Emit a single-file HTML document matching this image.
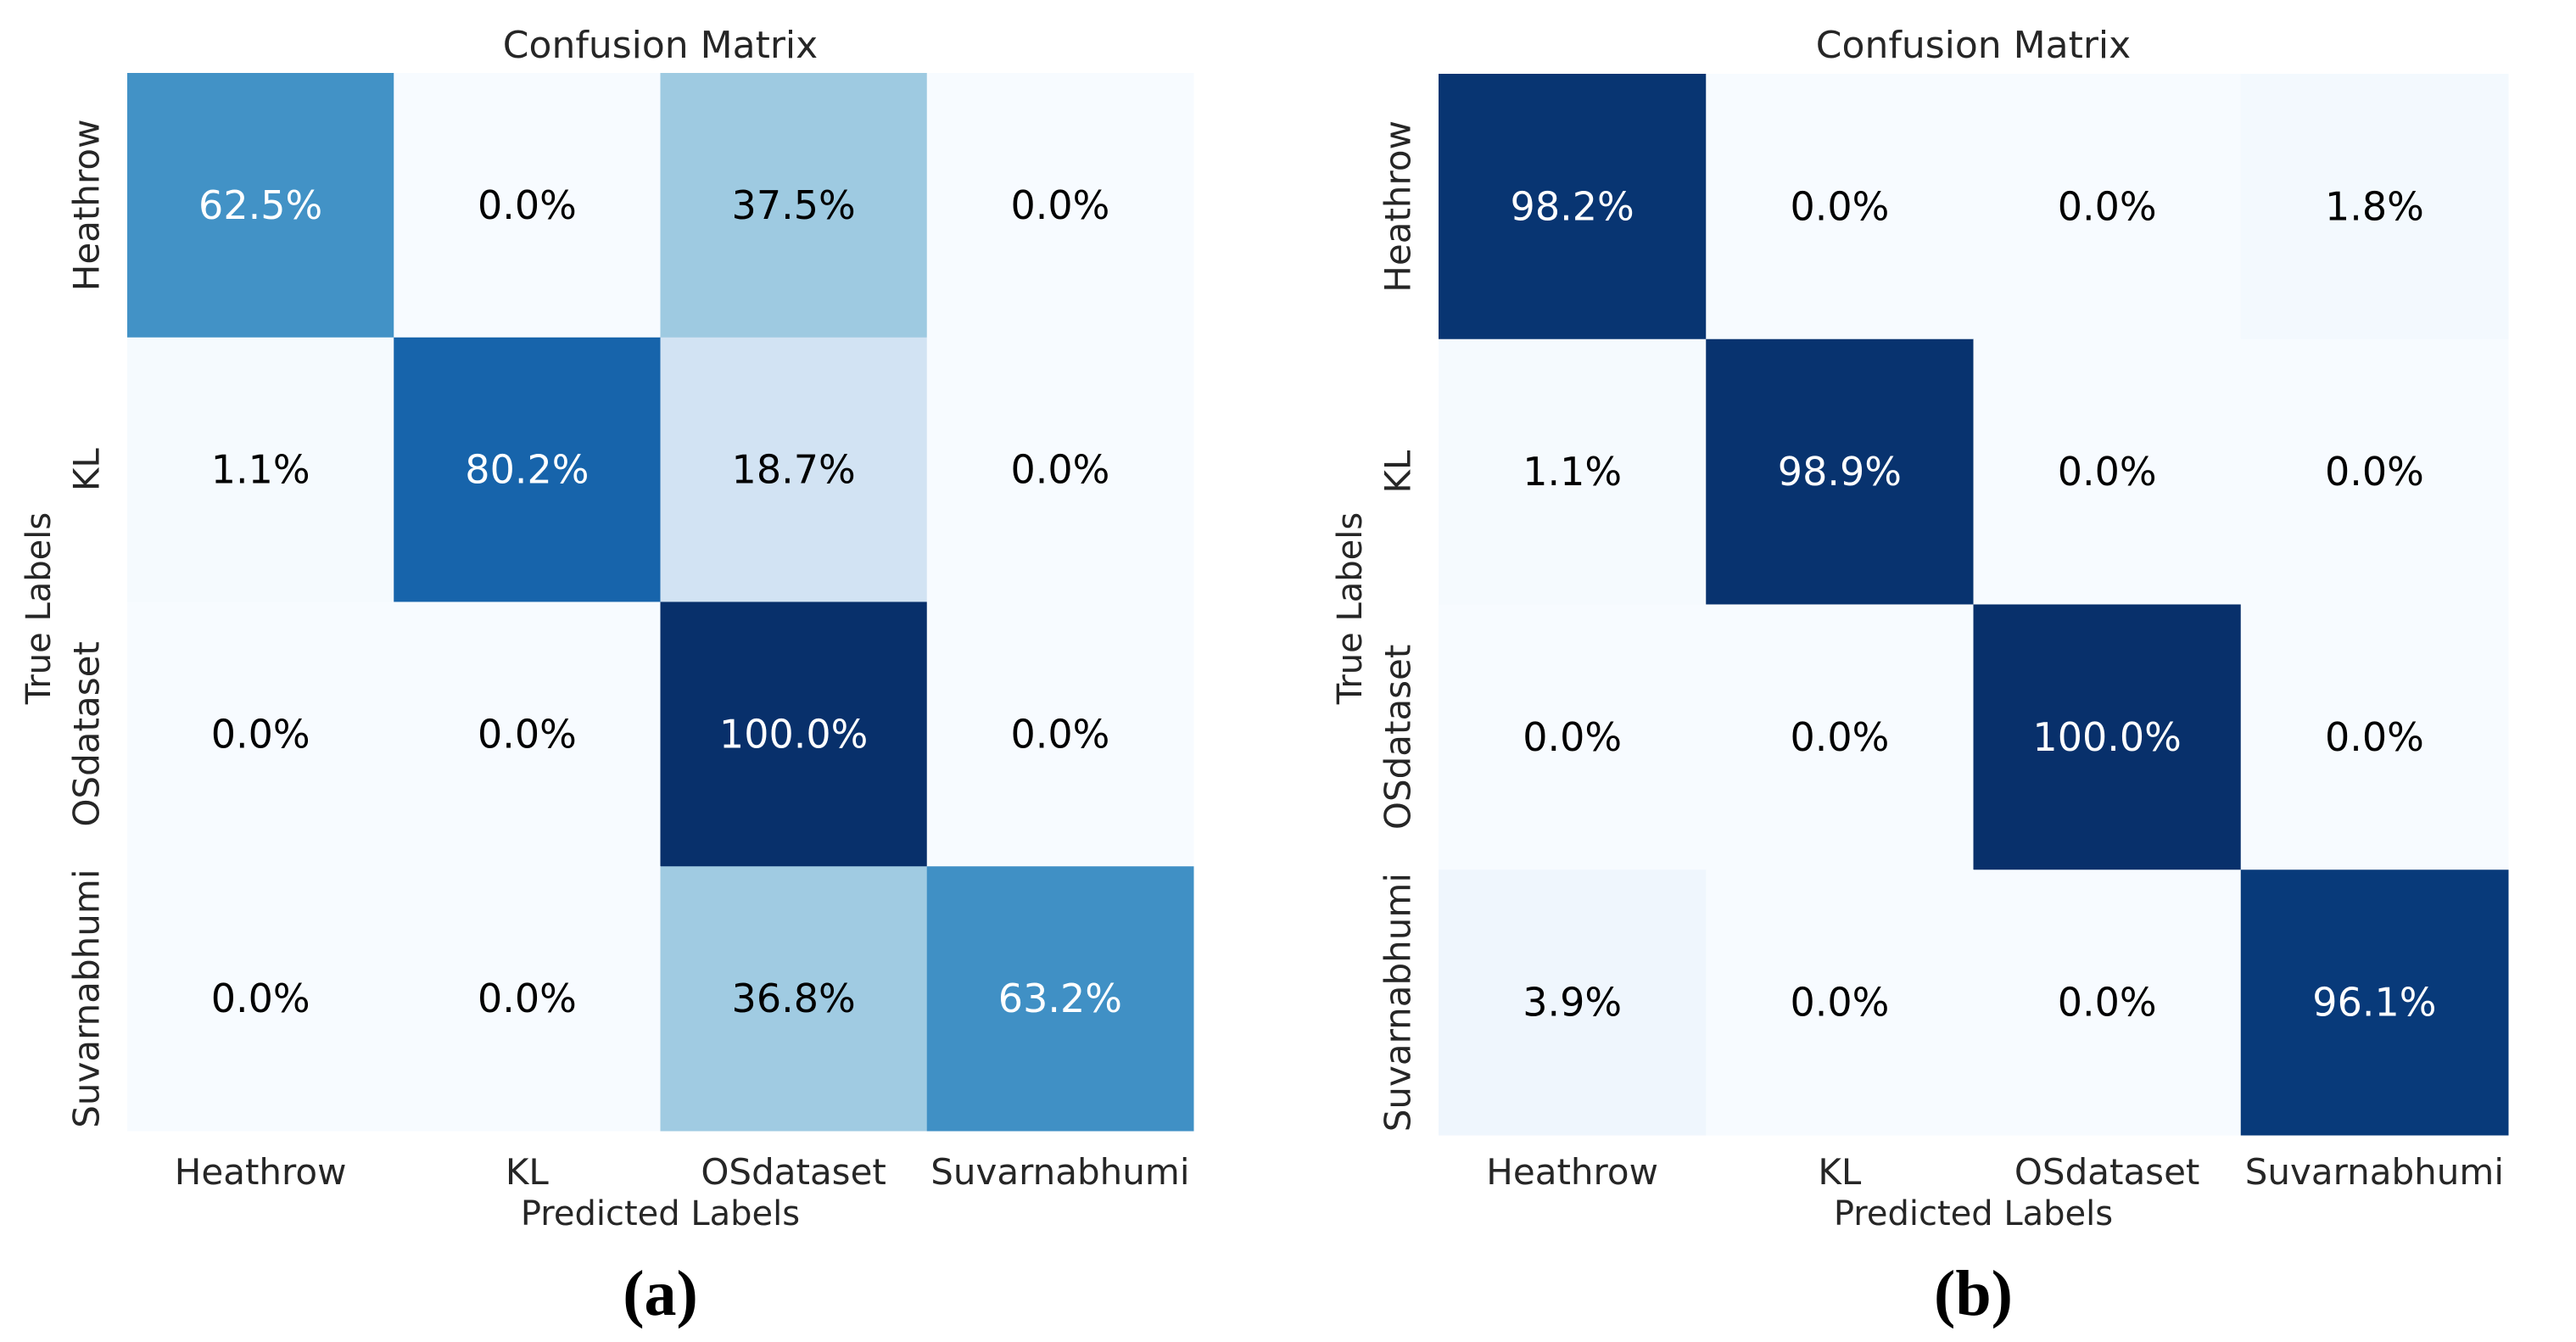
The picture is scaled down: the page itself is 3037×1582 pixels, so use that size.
<!DOCTYPE html>
<html><head><meta charset="utf-8"><style>
html,body{margin:0;padding:0;background:#fff;}
svg{display:block;}
text{font-family:"DejaVu Sans","Liberation Sans",sans-serif;}
text.serif{font-family:"Liberation Serif","DejaVu Serif",serif;}
</style></head>
<body>
<svg id="fig" width="3037" height="1582" viewBox="0 0 3037 1582" xmlns="http://www.w3.org/2000/svg"></svg>
<script>
const categories = ["Heathrow","KL","OSdataset","Suvarnabhumi"];
const valuesA = [
  [62.5, 0.0, 37.5, 0.0],
  [1.1, 80.2, 18.7, 0.0],
  [0.0, 0.0, 100.0, 0.0],
  [0.0, 0.0, 36.8, 63.2]
];
const valuesB = [
  [98.2, 0.0, 0.0, 1.8],
  [1.1, 98.9, 0.0, 0.0],
  [0.0, 0.0, 100.0, 0.0],
  [3.9, 0.0, 0.0, 96.1]
];
const panelLabels = ["(a)","(b)"];

const NS = "http://www.w3.org/2000/svg";
const svg = document.getElementById("fig");
const stops = ["#f7fbff","#deebf7","#c6dbef","#9ecae1","#6baed6","#4292c6","#2171b5","#08519c","#08306b"];
function hex(c){return [parseInt(c.slice(1,3),16),parseInt(c.slice(3,5),16),parseInt(c.slice(5,7),16)];}
function blues(v){
  let t=Math.max(0,Math.min(1,v/100))*(stops.length-1);
  let i=Math.min(Math.floor(t),stops.length-2), f=t-i;
  let a=hex(stops[i]), b=hex(stops[i+1]);
  return "rgb("+a.map((x,k)=>Math.round(x+(b[k]-x)*f)).join(",")+")";
}
function mk(tag, attrs, parent){
  const e=document.createElementNS(NS,tag);
  for(const k in attrs) e.setAttribute(k,attrs[k]);
  (parent||svg).appendChild(e);
  return e;
}
function drawPanel(vals, x0, y0, x1, y1, label, id){
  const g=mk("g",{});
  
  
  const n=categories.length;
  const cw=(x1-x0)/n, ch=(y1-y0)/n;
  const xs=j=>x0+j*cw, ys=i=>y0+i*ch;
  for(let i=0;i<n;i++){
    for(let j=0;j<n;j++){
      const v=vals[i][j];
      const r=mk("rect",{x:xs(j),y:ys(i),width:cw+0.5,height:ch+0.5,fill:blues(v)},g);
      
      
    }
  }
  for(let i=0;i<n;i++){
    for(let j=0;j<n;j++){
      const v=vals[i][j];
      const t=mk("text",{x:xs(j)+cw/2,y:ys(i)+ch/2+16,"text-anchor":"middle","font-size":46,fill:v>50?"#ffffff":"#000000"},g);
      t.textContent=v.toFixed(1)+"%";
      
      
    }
  }
  categories.forEach((c,j)=>{
    const t=mk("text",{x:xs(j)+cw/2,y:1396,"text-anchor":"middle","font-size":42,fill:"#262626"},g);
    t.textContent=c;
    
    
  });
  categories.forEach((c,i)=>{
    const cx=x0-48, cy=ys(i)+ch/2;
    const t=mk("text",{x:cx,y:cy,"text-anchor":"middle","dominant-baseline":"central","font-size":42,fill:"#262626",transform:"rotate(-90 "+cx+" "+cy+")"},g);
    t.textContent=c;
    
    
  });
  const mid=(x0+x1)/2;
  const ti=mk("text",{x:mid,y:68,"text-anchor":"middle","font-size":44,fill:"#262626"},g);
  ti.textContent="Confusion Matrix";
  
  
  const xl=mk("text",{x:mid,y:1444,"text-anchor":"middle","font-size":40,fill:"#262626"},g);
  xl.textContent="Predicted Labels";
  
  
  const yx=x0-104, yy=717;
  const yl=mk("text",{x:yx,y:yy,"text-anchor":"middle","dominant-baseline":"central","font-size":40,fill:"#262626",transform:"rotate(-90 "+yx+" "+yy+")"},g);
  yl.textContent="True Labels";
  
  
  const pl=mk("text",{x:mid,y:1550,"text-anchor":"middle","font-size":76,"font-weight":"bold",fill:"#000","class":"serif"},g);
  pl.textContent=label;
  
  
}
drawPanel(valuesA,150,86,1407,1333,panelLabels[0],"a");
drawPanel(valuesB,1696,87,2957,1338,panelLabels[1],"b");
</script>
</body></html>
